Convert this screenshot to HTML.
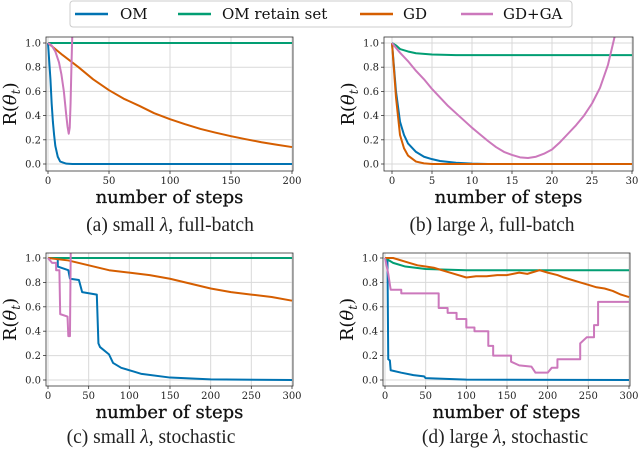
<!DOCTYPE html>
<html><head><meta charset="utf-8"><style>
html,body{margin:0;padding:0;background:#fff;}
svg{display:block;}
.tick{font-family:"DejaVu Serif",serif;font-size:10px;fill:#222;}
.xl{font-family:"DejaVu Serif",serif;font-size:18px;fill:#111;}
.cap{font-family:"Liberation Serif","DejaVu Serif",serif;font-size:19.5px;fill:#222;}
.leg{font-family:"DejaVu Serif",serif;font-size:15px;fill:#111;}
</style></head><body>
<svg id="fig" width="640" height="452" viewBox="0 0 640 452" xmlns="http://www.w3.org/2000/svg">
<g>
<rect x="70" y="1" width="502" height="26" rx="3" fill="#fff" stroke="#ccc"/>
<g><line x1="75" y1="14" x2="108" y2="14" stroke="#0173B2" stroke-width="2.5"/><text class="leg" x="120" y="19">OM</text></g>
<g><line x1="178" y1="14" x2="211" y2="14" stroke="#029E73" stroke-width="2.5"/><text class="leg" x="222" y="19">OM retain set</text></g>
<g><line x1="360" y1="14" x2="393" y2="14" stroke="#D55E00" stroke-width="2.5"/><text class="leg" x="403" y="19">GD</text></g>
<g><line x1="461" y1="14" x2="493" y2="14" stroke="#CC78BC" stroke-width="2.5"/><text class="leg" x="503" y="19">GD+GA</text></g>
</g>
</svg>
<script>
// Panel (a) small lambda, full-batch
const aOM=[[0,1],[1,0.85],[2,0.7],[3,0.5],[4,0.35],[5,0.24],[6,0.15],[8,0.06],[10,0.02],[15,0.003],[20,0],[200,0]];
const aRet=[[0,1],[200,1]];
const aGD=[[0,1],[12,0.9],[25,0.8],[37,0.7],[50,0.61],[62,0.54],[75,0.48],[87,0.42],[100,0.37],[112,0.33],[125,0.29],[137,0.26],[150,0.23],[162,0.205],[175,0.18],[187,0.16],[200,0.14]];
const aGA=[[0,1],[3,0.98],[6,0.93],[9,0.84],[11,0.74],[13,0.6],[14,0.5],[15,0.4],[16,0.31],[17,0.25],[17.8,0.3],[18.5,0.5],[19.2,0.8],[20,1.1]];
// Panel (b) large lambda, full-batch
const bOM=[[0,1],[0.5,0.6],[1,0.35],[1.5,0.24],[2,0.17],[3,0.1],[4,0.06],[5,0.04],[6,0.025],[8,0.01],[10,0.003],[12,0],[30,0]];
const bRet=[[0,1],[0.5,0.98],[1,0.95],[2,0.93],[3,0.915],[5,0.905],[8,0.9],[30,0.9]];
const bGD=[[0,1],[0.5,0.55],[1,0.24],[1.5,0.13],[2,0.07],[3,0.02],[4,0.005],[5,0],[30,0]];
const bGA=[[0,1],[1,0.92],[2,0.85],[3,0.77],[4,0.7],[5,0.62],[6,0.55],[7,0.48],[8,0.42],[9,0.36],[10,0.3],[11,0.245],[12,0.19],[13,0.14],[14,0.1],[15,0.075],[16,0.055],[17,0.05],[18,0.06],[19,0.085],[20,0.12],[21,0.18],[22,0.25],[23,0.32],[24,0.4],[25,0.5],[26,0.63],[27,0.82],[28,1.1]];
// Panel (c) small lambda, stochastic
const cOM=[[0,1],[12,1],[12,0.93],[25,0.9],[27,0.83],[38,0.82],[42,0.72],[60,0.7],[62,0.3],[64,0.27],[75,0.21],[80,0.14],[90,0.1],[105,0.07],[115,0.05],[150,0.02],[200,0.005],[300,0]];
const cRet=[[0,1],[300,1]];
const cGD=[[0,1],[25,0.98],[50,0.94],[75,0.9],[100,0.88],[125,0.86],[150,0.83],[175,0.79],[200,0.75],[225,0.72],[250,0.7],[275,0.68],[300,0.65]];
const cGA=[[0,1],[5,0.96],[10,0.96],[10,0.9],[14,0.9],[15,0.54],[24,0.52],[25,0.36],[27,0.36],[28,1.1]];
// Panel (d) large lambda, stochastic
const dOM=[[0,1],[3,1],[4,0.17],[6,0.16],[7,0.08],[20,0.06],[35,0.04],[48,0.03],[50,0.015],[100,0.003],[300,0]];
const dRet=[[0,1],[10,0.96],[25,0.93],[50,0.91],[100,0.9],[300,0.9]];
const dGD=[[0,1],[10,1],[25,0.97],[40,0.94],[50,0.93],[60,0.92],[75,0.89],[90,0.86],[100,0.84],[112,0.85],[125,0.85],[138,0.86],[150,0.86],[165,0.88],[175,0.87],[190,0.9],[200,0.88],[212,0.86],[220,0.84],[225,0.83],[240,0.8],[250,0.78],[260,0.76],[270,0.75],[280,0.73],[290,0.7],[300,0.68]];
const dGA=[[0,1],[4,0.87],[7,0.74],[20,0.74],[20,0.71],[66,0.71],[66,0.59],[77,0.59],[77,0.55],[88,0.55],[88,0.5],[100,0.5],[100,0.43],[110,0.43],[110,0.4],[127,0.4],[127,0.28],[133,0.28],[133,0.2],[155,0.2],[155,0.15],[165,0.12],[180,0.11],[185,0.06],[200,0.06],[205,0.1],[212,0.1],[212,0.17],[240,0.17],[240,0.3],[248,0.35],[257,0.35],[257,0.45],[262,0.45],[262,0.64],[300,0.64]];
const yTicks=[0,0.2,0.4,0.6,0.8,1.0];
const xTicksA=[0,50,100,150,200];
const xTicksB=[0,5,10,15,20,25,30];
const xTicksC=[0,50,100,150,200,250,300];

const NS="http://www.w3.org/2000/svg";
const fig=document.getElementById('fig');
const COL={om:"#0173B2",ret:"#029E73",gd:"#D55E00",ga:"#CC78BC"};
function mk(t,attrs,parent){const e=document.createElementNS(NS,t);for(const k in attrs)e.setAttribute(k,attrs[k]);parent.appendChild(e);return e;}

function panel(id,box,x0,x1,x0px,x1px,y1px,y0px,xt,series,caption,capX,capY){
  const g=mk('g',{},fig);
  
  
  const sx=v=>x0px+(v-x0)/(x1-x0)*(x1px-x0px);
  const sy=v=>y0px+v*(y1px-y0px);
  const [L,T,R,B]=box;
  const clipId='clip'+id;
  const cp=mk('clipPath',{id:clipId},g);mk('rect',{x:L,y:T,width:R-L,height:B-T},cp);
  yTicks.forEach(v=>{
    const gl=mk('line',{x1:L,x2:R,y1:sy(v),y2:sy(v),stroke:"#d9d9d9","stroke-width":1},g);
    
    
    mk('line',{x1:L-3,x2:L,y1:sy(v),y2:sy(v),stroke:"#333","stroke-width":0.8},g);
    const t=mk('text',{class:'tick',x:L-5,y:sy(v)+3.5,'text-anchor':'end'},g);
    t.textContent=v.toFixed(1);
    
    
  });
  xt.forEach(v=>{
    const gl=mk('line',{x1:sx(v),x2:sx(v),y1:T,y2:B,stroke:"#d9d9d9","stroke-width":1},g);
    
    
    mk('line',{x1:sx(v),x2:sx(v),y1:B,y2:B+3,stroke:"#333","stroke-width":0.8},g);
    const t=mk('text',{class:'tick',x:sx(v),y:B+13,'text-anchor':'middle'},g);
    t.textContent=String(v);
    
    
  });
  const sg=mk('g',{'clip-path':'url(#'+clipId+')'},g);
  series.forEach(([key,data])=>{
    const p=mk('polyline',{points:data.map(d=>sx(d[0]).toFixed(2)+','+sy(d[1]).toFixed(2)).join(' '),fill:'none',stroke:COL[key],'stroke-width':2,'stroke-linejoin':'round'},sg);
    
    
  });
  const fr=mk('rect',{x:L,y:T,width:R-L,height:B-T,fill:'none',stroke:'#333','stroke-width':0.8},g);
  
  
  const xl=mk('text',{class:'xl',x:(L+R)/2,y:B+32,'text-anchor':'middle','stroke':'#111','stroke-width':0.3},g);
  xl.textContent='number of steps';
  
  
  const yl=mk('text',{class:'xl',x:0,y:0,'text-anchor':'middle',transform:'translate('+(L-30)+','+((T+B)/2)+') rotate(-90)'},g);
  yl.innerHTML='R(<tspan font-style="italic">θ</tspan><tspan font-style="italic" font-size="12" dy="4">t</tspan><tspan dy="-4">)</tspan>';
  
  
  const c=mk('text',{class:'cap',x:capX,y:capY,'text-anchor':'middle'},g);
  c.innerHTML=caption;
  
  
}
panel('a',[46,37,293,171],0,200,48,292,43,164,xTicksA,[['om',aOM],['ret',aRet],['gd',aGD],['ga',aGA]],'(a) small <tspan font-style="italic">λ</tspan>, full-batch',170,231);
panel('b',[384,37,633,171],0,30,392,632,43,164,xTicksB,[['om',bOM],['ret',bRet],['gd',bGD],['ga',bGA]],'(b) large <tspan font-style="italic">λ</tspan>, full-batch',492,231);
panel('c',[46,253,293,386],0,300,48,292,258,380,xTicksC,[['om',cOM],['ret',cRet],['gd',cGD],['ga',cGA]],'(c) small <tspan font-style="italic">λ</tspan>, stochastic',151,443);
panel('d',[383,253,630,386],0,300,385,629,258,380,xTicksC,[['om',dOM],['ret',dRet],['gd',dGD],['ga',dGA]],'(d) large <tspan font-style="italic">λ</tspan>, stochastic',505,443);
</script>
</body></html>
